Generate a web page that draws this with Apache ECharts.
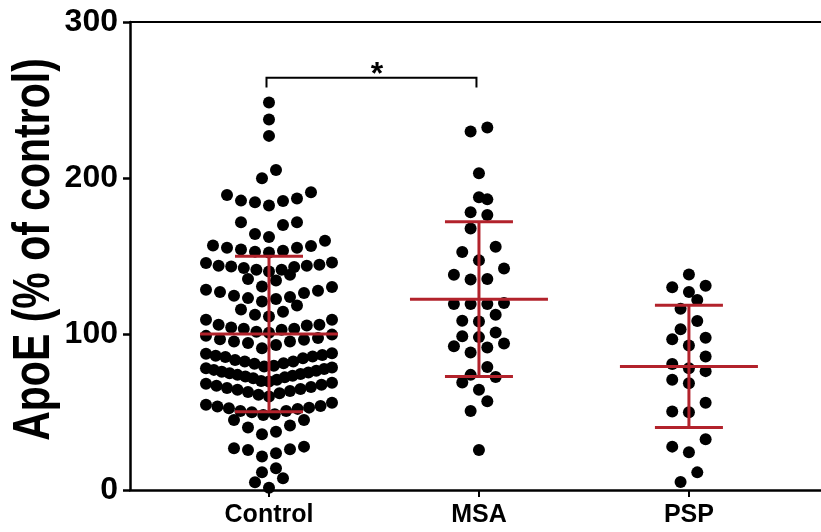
<!DOCTYPE html>
<html><head><meta charset="utf-8">
<script src="https://cdn.jsdelivr.net/npm/echarts@6/dist/echarts.min.js"></script>
<style>html,body{margin:0;padding:0;background:#fff}#c{width:821px;height:532px}</style>
</head><body><div id="c"></div>
<script>
// ---------------- data ----------------
const categories = ['Control', 'MSA', 'PSP'];
const controlValues = [
  248.4, 237.5, 227.0, 205.2, 199.8,
  190.8, 189.1, 186.8, 185.5, 185.3, 184.4, 182.3,
  171.6, 171.6, 169.9, 164.1,
  162.2, 159.8, 156.8, 156.4, 155.3, 155.3, 154.2, 153.4, 152.8, 152.3,
  145.9, 145.5, 144.4, 143.8, 143.8, 143.3, 142.9, 142.3, 141.2, 141.2, 140.1, 138.0,
  135.2, 134.3, 130.5, 130.1, 128.4, 127.7, 126.9, 126.3, 124.5, 123.7,
  123.0, 122.4, 120.9, 118.3, 115.7, 114.2, 112.3, 111.2,
  109.1, 109.1, 105.9, 105.9, 105.5, 104.2, 103.3, 103.3, 102.7, 101.4, 100.8,
  99.6, 98.8, 97.4, 96.7, 96.3, 95.2, 95.2, 94.2, 93.0, 90.9,
  87.7, 87.3, 86.6, 86.0, 85.6, 85.2, 84.5, 83.4, 82.3, 82.3, 81.3, 80.9,
  79.6, 79.2, 78.6, 78.1, 77.5, 77.0, 76.4, 75.8, 75.3, 74.9, 74.3, 73.8, 73.3, 72.7, 72.2, 71.7,
  70.6, 69.9, 69.5, 68.8, 68.1, 67.4, 66.8, 66.1, 65.4, 64.7, 64.2, 63.5, 62.8, 62.0, 61.0, 59.9,
  56.0, 54.6, 53.9, 53.5, 52.8, 52.4, 52.0, 50.7, 50.7, 49.9, 48.6, 48.1,
  44.9, 44.9, 41.3, 40.0, 37.4, 35.7, 27.8, 26.8, 26.1, 25.7, 23.6, 21.4, 13.9, 11.4, 7.5, 4.9, 1.5
];
const msaValues = [
  232.3, 229.8, 203.0, 187.6, 186.3, 178.0, 176.3, 167.7, 156.0, 152.6, 147.2, 142.0,
  138.0, 135.2, 135.0, 119.8, 119.2, 119.2, 119.2, 112.3, 108.5, 108.0, 101.0, 98.6,
  98.0, 93.9, 92.2, 91.3, 88.1, 78.8, 73.8, 72.5, 68.9, 64.2, 56.9, 50.7, 25.7
];
const pspValues = [
  138.2, 130.9, 129.9, 126.9, 121.8, 116.2, 108.3, 103.1, 97.6, 96.7, 92.6, 85.6,
  80.7, 78.1, 76.2, 70.6, 68.5, 56.0, 50.3, 49.9, 32.5, 27.8, 24.2, 11.3, 5.1
];
const groupMeans = [100.0, 122.3, 79.2];
const groupSDs = [49.8, 49.6, 39.2];
const yTicks = [0, 100, 200, 300];
const yAxisTitle = 'ApoE (% of control)';
const sigPair = [0, 1];
const sigTop = 264.2;
const sigBottom = 258.0;
const sigLabel = '*';

// ---------------- style ----------------
const FONT = "'Liberation Sans', Arial, Helvetica, sans-serif";
const RED = '#b2222b';
const XMIN = -0.662, XMAX = 2.629;
const swarmStyle = [
  { step: 14, maxW: 126 },
  { step: 16.7, maxW: 92 },
  { step: 16.7, maxW: 66 }
];
const ROW_H = 9.5; // value units per swarm row

const chart = echarts.init(document.getElementById('c'), null, { renderer: 'canvas' });

const baseOption = {
  animation: false,
  grid: { left: 130, right: 0, top: 22, bottom: 42, containLabel: false },
  xAxis: [{
    type: 'value', min: XMIN, max: XMAX, position: 'bottom',
    axisLine: { show: true, onZero: false, lineStyle: { color: '#000', width: 2.5 } },
    axisTick: { show: true, customValues: [0, 1, 2], length: 7, lineStyle: { color: '#000', width: 2 } },
    axisLabel: {
      customValues: [0, 1, 2], formatter: v => categories[Math.round(v)] || '',
      fontFamily: FONT, fontWeight: 'bold', fontSize: 25, color: '#000', margin: 13
    },
    splitLine: { show: false }
  }, {
    type: 'value', min: XMIN, max: XMAX, position: 'top',
    axisLine: { show: true, onZero: false, lineStyle: { color: '#000', width: 2 } },
    axisTick: { show: false }, axisLabel: { show: false }, splitLine: { show: false }
  }],
  yAxis: {
    type: 'value', min: yTicks[0], max: yTicks[yTicks.length - 1], interval: yTicks[1] - yTicks[0],
    position: 'left',
    axisLine: { show: true, onZero: false, lineStyle: { color: '#000', width: 2.5 } },
    axisTick: { show: true, length: 7, lineStyle: { color: '#000', width: 2.5 } },
    axisLabel: { fontFamily: FONT, fontWeight: 'bold', fontSize: 32, color: '#000', margin: 12 },
    splitLine: { show: false }
  },
  graphic: [{
    type: 'text', x: 35, y: 249.5, rotation: Math.PI / 2, scaleX: 1, scaleY: 1.25,
    style: { text: yAxisTitle, font: 'bold 41px ' + FONT, fill: '#000', align: 'center', verticalAlign: 'middle' }
  }],
  series: []
};
chart.setOption(baseOption);

const pxPerX = chart.convertToPixel({ xAxisIndex: 0 }, 1) - chart.convertToPixel({ xAxisIndex: 0 }, 0);

function swarm(values, catIdx, st) {
  const sorted = values.slice().sort((a, b) => a - b);
  const rows = [];
  let cur = null;
  for (const v of sorted) {
    if (!cur || v - cur.start >= ROW_H) { cur = { start: v, vals: [] }; rows.push(cur); }
    cur.vals.push(v);
  }
  const out = [];
  rows.forEach(r => {
    const n = r.vals.length;
    const step = n > 1 ? Math.min(st.step, st.maxW / (n - 1)) : 0;
    const slots = [];
    for (let i = 0; i < n; i++) slots.push((i - (n - 1) / 2) * step);
    slots.sort((a, b) => Math.abs(a) - Math.abs(b) || a - b);
    r.vals.forEach((v, i) => out.push([catIdx + slots[i] / pxPerX, v]));
  });
  return out;
}

const groups = [controlValues, msaValues, pspValues];
const points = [];
groups.forEach((g, i) => swarm(g, i, swarmStyle[i]).forEach(p => points.push(p)));

const barData = groupMeans.map((m, i) => [i, m, groupSDs[i]]);

chart.setOption({
  series: [{
    type: 'scatter', data: points, symbol: 'circle', symbolSize: 12, clip: false,
    itemStyle: { color: '#000', opacity: 1 }, z: 2
  }, {
    type: 'custom', data: barData, z: 5, clip: false,
    encode: { x: 0, y: 1 },
    renderItem: function (params, api) {
      const x = api.value(0), m = api.value(1), s = api.value(2);
      const c = api.coord([x, m]);
      const t = api.coord([x, m + s]);
      const b = api.coord([x, m - s]);
      const st = { stroke: RED, lineWidth: 3 };
      return {
        type: 'group', children: [
          { type: 'line', shape: { x1: c[0] - 69, y1: c[1], x2: c[0] + 69, y2: c[1] }, style: st },
          { type: 'line', shape: { x1: c[0], y1: t[1], x2: c[0], y2: b[1] }, style: st },
          { type: 'line', shape: { x1: c[0] - 34, y1: t[1], x2: c[0] + 34, y2: t[1] }, style: st },
          { type: 'line', shape: { x1: c[0] - 34, y1: b[1], x2: c[0] + 34, y2: b[1] }, style: st }
        ]
      };
    }
  }, {
    type: 'custom', data: [[sigPair[0], sigPair[1], sigTop, sigBottom]], z: 5, clip: false,
    encode: { x: [0, 1], y: [2, 3] },
    renderItem: function (params, api) {
      const a = api.coord([api.value(0), api.value(2)]);
      const b = api.coord([api.value(1), api.value(2)]);
      const lo = api.coord([api.value(0), api.value(3)]);
      const dx = -2.5;
      return {
        type: 'group', children: [
          { type: 'polyline', shape: { points: [[a[0] + dx, lo[1]], [a[0] + dx, a[1]], [b[0] + dx, b[1]], [b[0] + dx, lo[1]]] },
            style: { stroke: '#000', lineWidth: 2, fill: null } },
          { type: 'text', x: (a[0] + b[0]) / 2 + 3, y: a[1] + 13,
            style: { text: sigLabel, font: 'bold 32px ' + FONT, fill: '#000', align: 'center', verticalAlign: 'bottom' } }
        ]
      };
    }
  }]
});
</script>
</body></html>
